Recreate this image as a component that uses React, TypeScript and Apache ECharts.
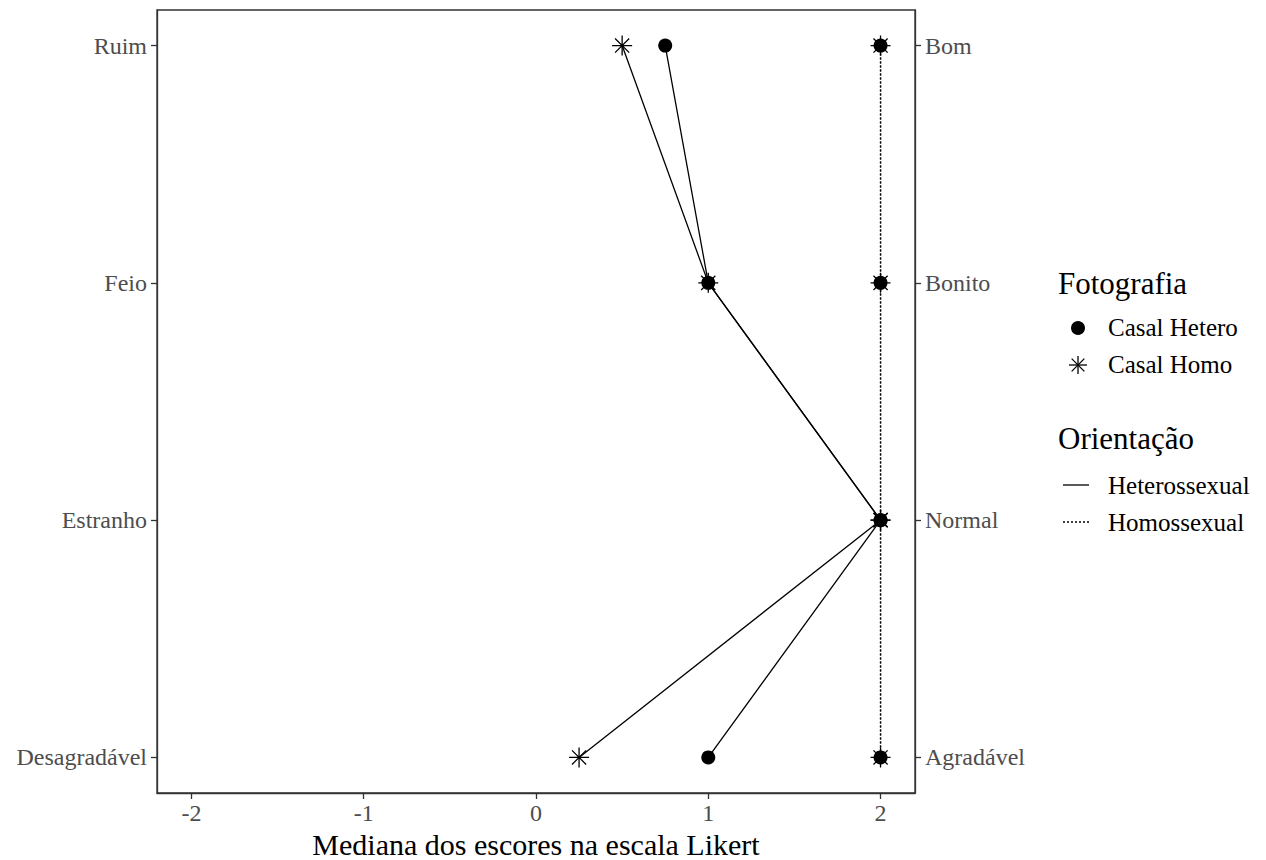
import React, { useEffect, useRef } from "react";
import * as echarts from "echarts";

const leftLabels = ["Desagradável", "Estranho", "Feio", "Ruim"];
const rightLabels = ["Agradável", "Normal", "Bonito", "Bom"];
const yLevels = [1, 2, 3, 4];
const xTicks = [-2, -1, 0, 1, 2];
// medians by level (Desagradável/Agradável .. Ruim/Bom)
const heteroPhotoHeteroOrient = [1, 2, 1, 0.75];
const homoPhotoHeteroOrient = [0.25, 2, 1, 0.5];
const heteroPhotoHomoOrient = [2, 2, 2, 2];
const homoPhotoHomoOrient = [2, 2, 2, 2];

const FONT = "'Liberation Serif', 'Times New Roman', serif";
const ASTER = "path://M10,0L10,20M0,10L20,10M2.93,2.93L17.07,17.07M2.93,17.07L17.07,2.93";

function pts(vals: number[]) {
  // path order: top (level 4) down to bottom (level 1)
  return yLevels.map((lv, i) => [vals[i], lv]).reverse();
}

export default function App() {
  const ref = useRef<HTMLDivElement>(null);
  useEffect(() => {
    document.body.style.margin = "0";
    const chart = echarts.init(ref.current!, null, { renderer: "svg" });
    const base = {
      type: "line",
      silent: true,
      emphasis: { disabled: true },
      animation: false,
    };
    const circleStyle = { color: "#000" };
    const asterStyle = { color: "none", borderColor: "#000", borderWidth: 1.3 };
    const yAxisCommon = {
      type: "value",
      min: 0.85,
      max: 4.15,
      splitLine: { show: false },
      axisLine: { show: true, onZero: false, lineStyle: { color: "#333", width: 1.3 } },
      axisTick: { show: true, length: 6, customValues: yLevels, lineStyle: { color: "#333", width: 1.3 } },
    };
    const legendAsterisk = (cx: number, cy: number) => {
      const r = 9;
      const d = r * 0.7071;
      const ls = { stroke: "#000", lineWidth: 1.3 };
      return {
        type: "group",
        children: [
          { type: "line", shape: { x1: cx, y1: cy - r, x2: cx, y2: cy + r }, style: ls },
          { type: "line", shape: { x1: cx - r, y1: cy, x2: cx + r, y2: cy }, style: ls },
          { type: "line", shape: { x1: cx - d, y1: cy - d, x2: cx + d, y2: cy + d }, style: ls },
          { type: "line", shape: { x1: cx - d, y1: cy + d, x2: cx + d, y2: cy - d }, style: ls },
        ],
      };
    };
    chart.setOption({
      animation: false,
      backgroundColor: "#fff",
      grid: {
        left: 157,
        top: 10,
        width: 758,
        height: 783,
        show: true,
        borderColor: "#333",
        borderWidth: 1.3,
        containLabel: false,
        outerBoundsMode: "none",
      },
      xAxis: {
        type: "value",
        min: -2.2,
        max: 2.2,
        splitLine: { show: false },
        axisLine: { show: true, onZero: false, lineStyle: { color: "#333", width: 1.3 } },
        axisTick: { show: true, length: 6, customValues: xTicks, lineStyle: { color: "#333", width: 1.3 } },
        axisLabel: {
          customValues: xTicks,
          color: "#4d4d4d",
          fontFamily: FONT,
          fontSize: 24,
          margin: 8,
        },
        name: "Mediana dos escores na escala Likert",
        nameLocation: "middle",
        nameGap: 33,
        nameTextStyle: { color: "#000", fontFamily: FONT, fontSize: 30 },
      },
      yAxis: [
        {
          ...yAxisCommon,
          position: "left",
          axisLabel: {
            customValues: yLevels,
            color: "#4d4d4d",
            fontFamily: FONT,
            fontSize: 24,
            margin: 10,
            formatter: (v: number) => leftLabels[Math.round(v) - 1] ?? "",
          },
        },
        {
          ...yAxisCommon,
          position: "right",
          axisLabel: {
            customValues: yLevels,
            color: "#4d4d4d",
            fontFamily: FONT,
            fontSize: 24,
            margin: 10,
            formatter: (v: number) => rightLabels[Math.round(v) - 1] ?? "",
          },
        },
      ],
      series: [
        {
          ...base,
          name: "Hetero / Heterossexual",
          data: pts(heteroPhotoHeteroOrient),
          symbol: "circle",
          symbolSize: 14,
          itemStyle: circleStyle,
          lineStyle: { color: "#000", width: 1.3, type: "solid" },
        },
        {
          ...base,
          name: "Homo / Heterossexual",
          data: pts(homoPhotoHeteroOrient),
          symbol: ASTER,
          symbolSize: 20,
          itemStyle: asterStyle,
          lineStyle: { color: "#000", width: 1.3, type: "solid" },
        },
        {
          ...base,
          name: "Hetero / Homossexual",
          data: pts(heteroPhotoHomoOrient),
          symbol: "circle",
          symbolSize: 14,
          itemStyle: circleStyle,
          lineStyle: { color: "#000", width: 1.3, type: [2, 2] },
        },
        {
          ...base,
          name: "Homo / Homossexual",
          data: pts(homoPhotoHomoOrient),
          symbol: ASTER,
          symbolSize: 20,
          itemStyle: asterStyle,
          lineStyle: { color: "#000", width: 1.3, type: [2, 2] },
        },
      ],
      graphic: [
        {
          type: "text",
          left: 1058,
          top: 268,
          style: { text: "Fotografia", fontFamily: FONT, fontSize: 31, fill: "#000" },
        },
        { type: "circle", shape: { cx: 1078, cy: 328, r: 7 }, style: { fill: "#000" } },
        {
          type: "text",
          left: 1108,
          top: 315,
          style: { text: "Casal Hetero", fontFamily: FONT, fontSize: 25, fill: "#000" },
        },
        legendAsterisk(1078, 365),
        {
          type: "text",
          left: 1108,
          top: 352,
          style: { text: "Casal Homo", fontFamily: FONT, fontSize: 25, fill: "#000" },
        },
        {
          type: "text",
          left: 1058,
          top: 423,
          style: { text: "Orientação", fontFamily: FONT, fontSize: 31, fill: "#000" },
        },
        {
          type: "line",
          shape: { x1: 1063, y1: 485, x2: 1089, y2: 485 },
          style: { stroke: "#000", lineWidth: 1.3 },
        },
        {
          type: "text",
          left: 1108,
          top: 473,
          style: { text: "Heterossexual", fontFamily: FONT, fontSize: 25, fill: "#000" },
        },
        {
          type: "line",
          shape: { x1: 1063, y1: 522, x2: 1089, y2: 522 },
          style: { stroke: "#000", lineWidth: 1.3, lineDash: [2, 2] },
        },
        {
          type: "text",
          left: 1108,
          top: 510,
          style: { text: "Homossexual", fontFamily: FONT, fontSize: 25, fill: "#000" },
        },
      ],
    });
    return () => chart.dispose();
  }, []);
  return <div ref={ref} style={{ width: 1266, height: 860 }} />;
}
